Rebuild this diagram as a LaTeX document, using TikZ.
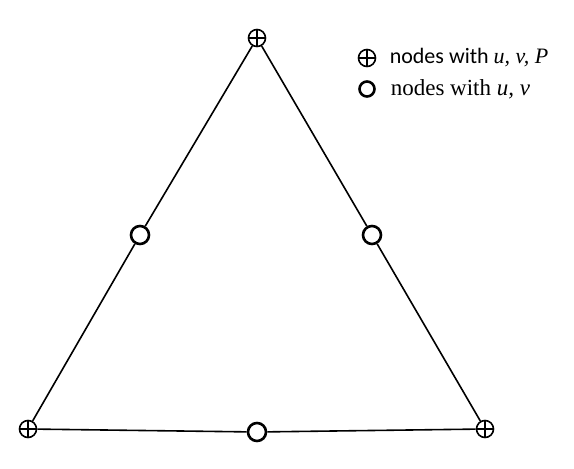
\documentclass[tikz,border=0pt]{standalone}
\usepackage{fontspec}
\setmainfont{Liberation Serif}
\newfontfamily\calibri{Carlito}
\newfontfamily\timesfont{Liberation Serif}
\usetikzlibrary{positioning}

\begin{document}
\begin{tikzpicture}[
  x=1pt, y=-1pt, line width=1.6pt,
  plusnode/.style={circle, draw, inner sep=0pt, minimum size=17pt,
    path picture={
      \draw[line width=1.6pt] (path picture bounding box.north) -- (path picture bounding box.south);
      \draw[line width=1.6pt] (path picture bounding box.west) -- (path picture bounding box.east);}},
  opennode/.style={circle, draw, line width=2.6pt, inner sep=0pt, minimum size=18pt},
  legend/.style={font=\fontsize{22}{24}\selectfont, inner sep=0pt, anchor=west},
]
\useasboundingbox (0,0) rectangle (574,469);
% corner and mid-side nodes
\node[plusnode] (top) at (257,38) {};
\node[plusnode] (bl) at (28,429) {};
\node[plusnode] (br) at (485,429) {};
\node[opennode] (ml) at (140,235) {};
\node[opennode] (mr) at (372,235) {};
\node[opennode] (mb) at (257,432) {};
% sides
\draw (top) -- (ml) -- (bl);
\draw (top) -- (mr) -- (br);
\draw (bl) -- (mb) -- (br);
% legend
\node[plusnode] (k1) at (367,58) {};
\node[legend, right=22pt of k1.center] (t1) {\calibri nodes with \timesfont\itshape u, v, P};
\node[opennode, minimum size=15pt] (k2) at (367,89) {};
\node[legend, right=23pt of k2.center, font=\fontsize{23}{25}\selectfont] (t2) {\timesfont nodes with \itshape u, v};
\end{tikzpicture}
\end{document}
